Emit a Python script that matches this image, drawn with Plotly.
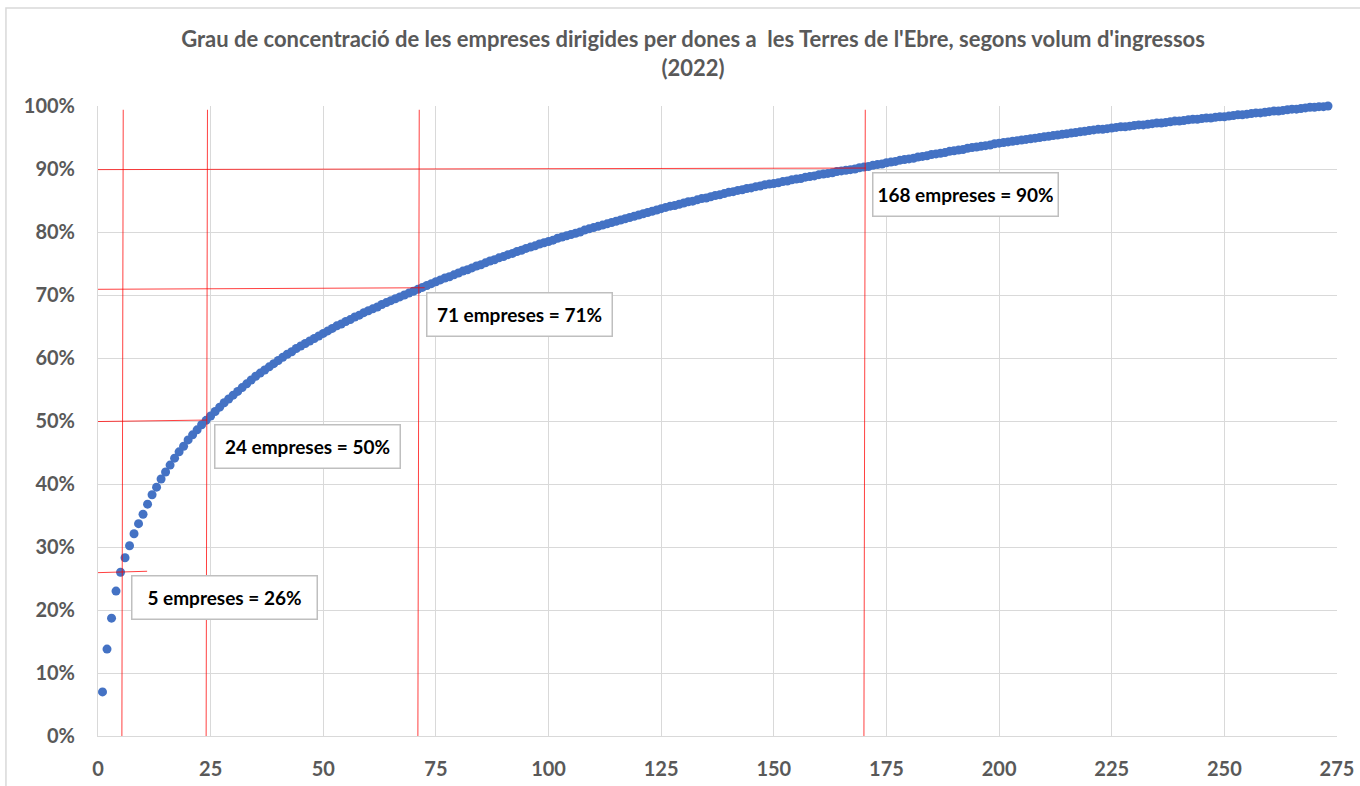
import plotly.graph_objs as go

# cumulative share of revenue (%) by company rank
pct_1_25 = [7.0, 13.8, 18.7, 23.0, 26.0, 28.3, 30.2, 32.1, 33.7, 35.2,
            36.8, 38.3, 39.5, 40.8, 41.9, 43.0, 44.1, 45.1, 46.0, 47.0,
            47.8, 48.6, 49.4, 50.1, 50.8]
pct_26_50 = [51.5, 52.2, 52.9, 53.5, 54.1, 54.7, 55.3, 55.9, 56.5, 57.1,
             57.6, 58.1, 58.6, 59.1, 59.6, 60.1, 60.6, 61.0, 61.5, 61.9,
             62.3, 62.7, 63.1, 63.5, 63.9]
pct_51_75 = [64.3, 64.7, 65.1, 65.4, 65.8, 66.1, 66.5, 66.8, 67.2, 67.5,
             67.8, 68.1, 68.5, 68.8, 69.1, 69.4, 69.7, 70.0, 70.3, 70.6,
             70.9, 71.2, 71.5, 71.8, 72.1]
pct_76_100 = [72.4, 72.7, 72.9, 73.2, 73.5, 73.8, 74.0, 74.3, 74.6, 74.8,
              75.1, 75.4, 75.6, 75.9, 76.1, 76.4, 76.6, 76.9, 77.1, 77.4,
              77.6, 77.8, 78.1, 78.3, 78.5]
pct_101_125 = [78.7, 79.0, 79.2, 79.4, 79.6, 79.8, 80.0, 80.3, 80.5, 80.7,
               80.9, 81.1, 81.3, 81.5, 81.7, 81.9, 82.1, 82.3, 82.5, 82.7,
               82.9, 83.1, 83.3, 83.5, 83.7]
pct_126_150 = [83.9, 84.1, 84.2, 84.4, 84.6, 84.8, 84.9, 85.1, 85.3, 85.4,
               85.6, 85.8, 85.9, 86.1, 86.3, 86.4, 86.6, 86.7, 86.9, 87.0,
               87.2, 87.3, 87.5, 87.6, 87.7]
pct_151_175 = [87.8, 88.0, 88.1, 88.3, 88.4, 88.5, 88.7, 88.8, 88.9, 89.1,
               89.2, 89.3, 89.4, 89.6, 89.7, 89.8, 89.9, 90.0, 90.2, 90.3,
               90.4, 90.6, 90.7, 90.8, 91.0]
pct_176_200 = [91.1, 91.2, 91.4, 91.5, 91.6, 91.7, 91.9, 92.0, 92.1, 92.3,
               92.4, 92.5, 92.6, 92.8, 92.9, 93.0, 93.1, 93.3, 93.4, 93.5,
               93.6, 93.7, 93.8, 94.0, 94.1]
pct_201_225 = [94.2, 94.3, 94.4, 94.5, 94.6, 94.7, 94.8, 94.9, 95.0, 95.1,
               95.2, 95.3, 95.4, 95.5, 95.6, 95.7, 95.8, 95.9, 96.0, 96.1,
               96.2, 96.3, 96.3, 96.4, 96.5]
pct_226_250 = [96.6, 96.7, 96.7, 96.8, 96.9, 97.0, 97.0, 97.1, 97.2, 97.3,
               97.3, 97.4, 97.5, 97.6, 97.6, 97.7, 97.8, 97.9, 97.9, 98.0,
               98.1, 98.1, 98.2, 98.3, 98.3]
pct_251_273 = [98.4, 98.5, 98.6, 98.6, 98.7, 98.8, 98.9, 98.9, 99.0, 99.1,
               99.2, 99.2, 99.3, 99.4, 99.5, 99.5, 99.6, 99.7, 99.8, 99.8,
               99.9, 99.9, 100.0]

pct = (pct_1_25 + pct_26_50 + pct_51_75 + pct_76_100 + pct_101_125 + pct_126_150
       + pct_151_175 + pct_176_200 + pct_201_225 + pct_226_250 + pct_251_273)
rank = list(range(1, len(pct) + 1))

# highlighted thresholds
n_marked = [5, 24, 71, 168]
pct_marked = [26, 50, 71, 90]
guide_x = [5.3, 24.0, 71.0, 170.0]
labels = ['5 empreses = 26%', '24 empreses = 50%', '71 empreses = 71%', '168 empreses = 90%']

grey = '#595959'
grid = '#D9D9D9'
red = 'rgba(255,0,0,0.75)'

fig = go.Figure()
fig.add_trace(go.Scatter(x=rank, y=pct, mode='markers', cliponaxis=False,
                         marker=dict(color='#4472C4', size=9), showlegend=False))

# hand drawn red guide lines
stub = [10.9, 24.2, 72.5, 170.4]
for gx, gy, end in zip(guide_x, pct_marked, stub):
    fig.add_shape(type='line', xref='x', yref='y', x0=gx + 0.3, y0=99.4, x1=gx, y1=0,
                  line=dict(color=red, width=1))
    fig.add_shape(type='line', xref='x', yref='y', x0=-1.4, y0=gy - 0.1, x1=end, y1=gy + 0.15,
                  line=dict(color=red, width=1))

for gx, gy, txt in zip(guide_x, pct_marked, labels):
    fig.add_annotation(x=gx + 1.8 if gx > 10 else gx + 2.0, y=gy - 0.5, xref='x', yref='y',
                       text=txt, showarrow=False, xanchor='left', yanchor='top',
                       width=176, height=34, align='center', valign='middle',
                       bgcolor='white', bordercolor='#BFBFBF', borderwidth=1.5, borderpad=4,
                       font=dict(family='Lato', size=19, color='black', weight='bold'))

# chart area border
fig.add_shape(type='rect', xref='paper', yref='paper', x0=-0.0743, y0=-0.09, x1=1.03, y1=1.1556,
              line=dict(color=grid, width=1.5), layer='below')

fig.update_layout(
    title=dict(text="Grau de concentració de les empreses dirigides per dones a\u00a0 les Terres de l'Ebre, segons volum d'ingressos<br>(2022)",
               x=0.5096, xanchor='center', xref='container', y=0.94, yanchor='top',
               font=dict(family='Lato', size=22, color=grey, weight='bold')),
    width=1360,
    height=786,
    plot_bgcolor='white',
    paper_bgcolor='white',
    margin=dict(autoexpand=False, l=98, r=23, t=106, b=50),
    font=dict(family='Lato', color=grey),
)
fig.update_xaxes(range=[0, 275], dtick=25, tick0=0, showgrid=True, gridcolor=grid, gridwidth=1,
                 showline=True, linecolor=grid, linewidth=1, zeroline=False,
                 ticklabelstandoff=15, tickfont=dict(family='Lato', size=20, color=grey, weight='bold'))
fig.update_yaxes(range=[0, 100], dtick=10, ticksuffix='%', showgrid=True, gridcolor=grid, gridwidth=1,
                 showline=True, linecolor=grid, linewidth=1, zeroline=False,
                 ticklabelstandoff=18, tickfont=dict(family='Lato', size=20, color=grey, weight='bold'))

fig.write_html("out.html", config={'displayModeBar': False},
               post_script="document.body.style.margin='0px';")
